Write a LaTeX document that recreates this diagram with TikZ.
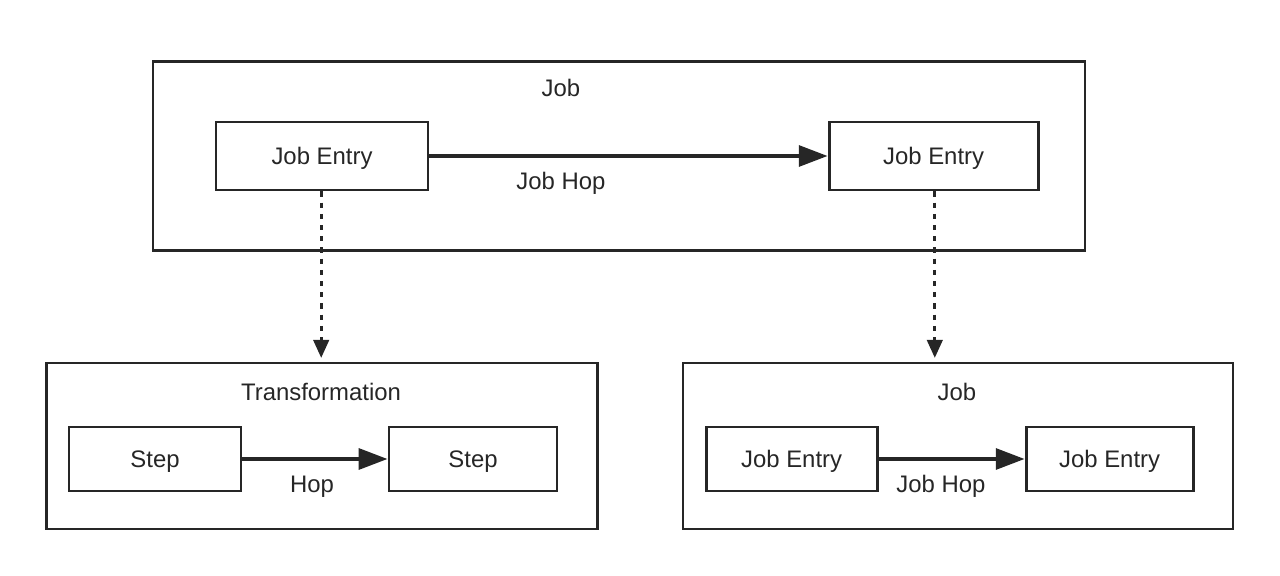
\documentclass[tikz,border=0pt]{standalone}
\usepackage{fontspec}
\setmainfont{Liberation Sans}
\usetikzlibrary{arrows.meta, positioning}

\begin{document}
\begin{tikzpicture}[align=center, font=\fontsize{17}{20}\selectfont]
\tikzstyle{frame}=[draw=black!85, line width=2.1pt, inner sep=0pt]
\tikzstyle{entry}=[draw=black!85, text=black!85, line width=2.1pt, inner sep=0pt, minimum height=1.7cm, text height=2.2ex, text depth=0pt]
\tikzstyle{hop}=[-{Triangle[length=0.72cm, width=0.52cm]}, draw=black!85, line width=2.6pt]
\tikzstyle{call}=[-{Triangle[length=0.45cm, width=0.38cm]}, draw=black!85, line width=2.4pt, dash pattern=on 0.13cm off 0.15cm]
\tikzstyle{label}=[text=black!85]

\useasboundingbox (0,0) rectangle (32,14.4);

% top job
\node[frame, minimum width=23.3cm, minimum height=4.725cm] (job) at (15.475,10.49) {};
\node[label] (jobname) at (14.025,12.2) {Job};
\node[entry, minimum width=5.3cm] (entryA) at (8.05,10.5) {Job Entry};
\node[entry, minimum width=5.225cm] (entryB) at (23.34,10.5) {Job Entry};
\node[label] (jobhop) at (14.025,9.82) {Job Hop};

% transformation
\node[frame, minimum width=13.775cm, minimum height=4.15cm] (trans) at (8.04,3.25) {};
\node[label] (transname) at (8.025,4.6) {Transformation};
\node[entry, minimum width=4.3cm, minimum height=1.6cm] (stepA) at (3.875,2.925) {Step};
\node[entry, minimum width=4.2cm, minimum height=1.6cm] (stepB) at (11.825,2.925) {Step};
\node[label] (stephop) at (7.8,2.22) {Hop};

% sub job
\node[frame, minimum width=13.75cm, minimum height=4.15cm] (subjob) at (23.95,3.25) {};
\node[label] (subjobname) at (23.925,4.6) {Job};
\node[entry, minimum width=4.275cm, minimum height=1.6cm] (entryC) at (19.79,2.925) {Job Entry};
\node[entry, minimum width=4.175cm, minimum height=1.6cm] (entryD) at (27.74,2.925) {Job Entry};
\node[label] (subjobhop) at (23.525,2.24) {Job Hop};

\coordinate (tipA) at (8.03,5.45);
\coordinate (tipB) at (23.37,5.45);

\draw[hop] (entryA) -- (entryB);
\draw[hop] (stepA) -- (stepB);
\draw[hop] (entryC) -- (entryD);
\draw[call] (entryA.south -| tipA) -- (tipA);
\draw[call] (entryB.south -| tipB) -- (tipB);
\end{tikzpicture}
\end{document}
